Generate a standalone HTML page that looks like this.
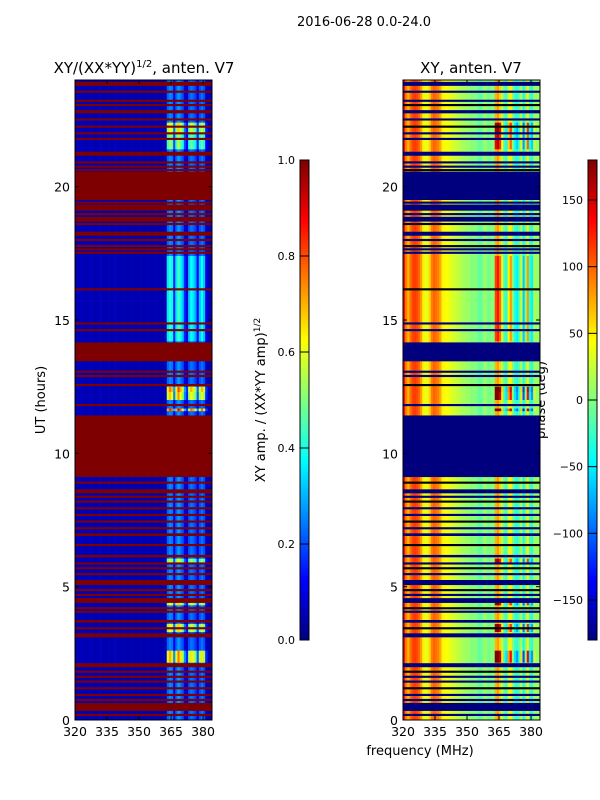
<!DOCTYPE html>
<html><head><meta charset="utf-8">
<style>
body{margin:0;background:#fff;}
svg{display:block;font-family:"DejaVu Sans","Liberation Sans",sans-serif;}
</style></head>
<body>
<svg id="fig" width="600" height="800" viewBox="0 0 600 800">
<rect x="0" y="0" width="600" height="800" fill="#fff"/>
<text x="364" y="26" font-size="13" text-anchor="middle">2016-06-28 0.0-24.0</text>
<text x="144" y="73" font-size="15" text-anchor="middle">XY/(XX*YY)<tspan font-size="10" dy="-6">1/2</tspan><tspan dy="6">, anten. V7</tspan></text>
<text x="471" y="73" font-size="15" text-anchor="middle">XY, anten. V7</text>
<text transform="translate(45,400) rotate(-90)" font-size="13" text-anchor="middle">UT (hours)</text>
<text transform="translate(265,400) rotate(-90)" font-size="13" text-anchor="middle">XY amp. / (XX*YY amp)<tspan font-size="9" dy="-5">1/2</tspan></text>
<text transform="translate(545,400) rotate(-90)" font-size="13" text-anchor="middle">phase (deg)</text>
<text x="420" y="755" font-size="13" text-anchor="middle">frequency (MHz)</text>
<g id="left"></g>
<g id="right"></g>
<g id="cb"></g>
</svg>
<script>
// frequency channels (MHz, 1 MHz wide, start value)
const freqs = [];
for (let f = 320; f < 384; f++) freqs.push(f);
// amplitude per channel (320..383)
const colAmp = [0.05,0.05,0.06,0.06,0.05,0.05,0.06,0.06,0.05,0.05,0.05,0.06,0.06,0.05,0.05,0.05,
  0.05,0.05,0.06,0.05,0.05,0.05,0.05,0.05,0.05,0.05,0.05,0.05,0.05,0.05,0.05,0.05,
  0.05,0.05,0.05,0.05,0.05,0.05,0.05,0.05,0.05,0.05,0.05,0.22,0.26,0.24,0.1,0.22,0.28,0.24,
  0.2,0.1,0.06,0.2,0.24,0.22,0.18,0.08,0.2,0.24,0.2,0.06,0.05,0.05];
// phase per channel (deg)
const colPhase = [130,90,70,95,110,115,110,100,80,50,40,35,60,90,100,95,
  90,75,50,40,45,40,35,30,30,25,20,15,15,10,10,5,
  0,5,0,-10,-10,0,10,0,-5,5,0,70,80,60,20,-10,-20,30,
  50,0,-20,-30,-10,20,-40,0,50,-20,-30,10,10,10];
// flagged intervals (UT hours)
const flagStart = [23.78,23.52,23.18,23.02,22.75,22.48,22.21,21.96,21.75,21.16,20.87,20.71,20.58,19.5,19.36,19.1,18.93,18.69,18.56,18.16,17.96,17.73,17.61,17.48,16.11,14.83,14.58,13.45,13.02,12.86,12.52,
  11.77,9.11,8.86,8.5,8.33,8.15,7.9,7.65,7.4,7.15,6.9,6.52,6.1,5.83,5.65,5.43,5.06,4.83,4.65,4.39,4.15,4.02,3.65,3.4,3.1,1.98,1.77,1.58,1.4,1.15,0.9,0.71,0.34,0.15];
const flagEnd = [23.93,23.6,23.26,23.1,22.87,22.56,22.29,22.04,21.83,21.31,20.95,20.79,20.66,20.56,19.44,19.33,19.01,18.87,18.64,18.31,18.04,17.81,17.69,17.56,16.19,14.91,14.66,14.16,13.1,12.94,12.6,
  11.85,11.42,8.94,8.65,8.41,8.23,7.98,7.73,7.48,7.23,7.0,6.6,6.19,5.91,5.73,5.51,5.25,4.91,4.73,4.57,4.23,4.1,3.75,3.48,3.25,2.13,1.85,1.66,1.48,1.23,0.98,0.79,0.64,0.23];
// brighter activity bands in the active channels (start, end, gain)
const actStart = [11.58,12.0,12.3,2.15,3.3,14.2,21.4,22.0,5.9,4.3];
const actEnd = [11.68,12.3,12.5,2.6,3.6,17.4,22.0,22.4,6.05,4.5];
const actGain = [3.2,2.6,2.9,2.7,2.4,1.6,2.0,2.4,2.2,2.4];
const ampTicks = [0,0.2,0.4,0.6,0.8,1.0];
const phaseTicks = [-150,-100,-50,0,50,100,150];
const xTicks = [320,335,350,365,380];
const yTicks = [0,5,10,15,20];

const NS = "http://www.w3.org/2000/svg";
function jet(v){v=Math.max(0,Math.min(1,v));
  const c=x=>Math.round(255*Math.max(0,Math.min(1,x)));
  return `rgb(${c(1.5-Math.abs(4*v-3))},${c(1.5-Math.abs(4*v-2))},${c(1.5-Math.abs(4*v-1))})`;}
function mk(parent,tag,attrs){const e=document.createElementNS(NS,tag);for(const k in attrs)e.setAttribute(k,attrs[k]);parent.appendChild(e);return e;}
const fMin=320,fMax=384.2,tMin=0,tMax=24;
function panel(g,x0,x1,y0,y1,isPhase){
  const X=f=>x0+(f-fMin)/(fMax-fMin)*(x1-x0);
  const Y=t=>y1-(t-tMin)/(tMax-tMin)*(y1-y0);
  const norm=v=>isPhase?(v+180)/360:v;
  freqs.forEach((f,i)=>{
    const v=isPhase?colPhase[i]:colAmp[i];
    const r=mk(g,'rect',{x:X(f),y:y0,width:X(f+1)-X(f)+0.3,height:y1-y0,fill:jet(norm(v))});
    
    
  });
  actStart.forEach((s,j)=>{
    freqs.forEach((f,i)=>{
      if(f<363||f>381)return;
      let v;
      if(isPhase){v=Math.max(-180,Math.min(180,colPhase[i]*actGain[j]));}
      else v=Math.min(1,colAmp[i]*actGain[j]);
      const r=mk(g,'rect',{x:X(f),y:Y(actEnd[j]),width:X(f+1)-X(f)+0.3,height:Y(s)-Y(actEnd[j]),fill:jet(norm(v))});
      
      
    });
  });
  flagStart.forEach((s,j)=>{
    const e=flagEnd[j];
    let fill=isPhase?'#00007f':'#7f0000';
    if(isPhase&&e-s<0.1&&j%3===0)fill='#000';
    const r=mk(g,'rect',{x:x0,y:Y(e),width:x1-x0,height:Math.max(1,Y(s)-Y(e)),fill:fill});
    
    
  });
  const fr=mk(g,'rect',{x:x0,y:y0,width:x1-x0,height:y1-y0,fill:'none',stroke:'#000','stroke-width':1});
  
  
  xTicks.forEach(t=>{
    mk(g,'line',{x1:X(t),x2:X(t),y1:y1,y2:y1-4,stroke:'#000'});
    mk(g,'line',{x1:X(t),x2:X(t),y1:y0,y2:y0+4,stroke:'#000'});
    const tx=mk(g,'text',{x:X(t),y:y1+16,'font-size':12.5,'text-anchor':'middle'});tx.textContent=t;
    
    
  });
  yTicks.forEach(t=>{
    mk(g,'line',{x1:x0,x2:x0+4,y1:Y(t),y2:Y(t),stroke:'#000'});
    mk(g,'line',{x1:x1,x2:x1-4,y1:Y(t),y2:Y(t),stroke:'#000'});
    const tx=mk(g,'text',{x:x0-5,y:Y(t)+5,'font-size':12.5,'text-anchor':'end'});tx.textContent=t;
    
    
  });
}
panel(document.getElementById('left'),75,212,80,720,false);
panel(document.getElementById('right'),403,540,80,720,true);

function colorbar(g,x,y0,y1,vmin,vmax,ticks,fmt){
  for(let i=0;i<120;i++){
    const r=mk(g,'rect',{x:x,y:y1-(i+1)*(y1-y0)/120,width:9,height:(y1-y0)/120+0.5,fill:jet((i+0.5)/120)});
    
    
  }
  const fr=mk(g,'rect',{x:x,y:y0,width:9,height:y1-y0,fill:'none',stroke:'#000'});
  
  
  ticks.forEach(t=>{
    const yy=y1-(t-vmin)/(vmax-vmin)*(y1-y0);
    mk(g,'line',{x1:x,x2:x+9,y1:yy,y2:yy,stroke:'#000'});
    const tx=mk(g,'text',{x:x-5,y:yy+4,'font-size':11,'text-anchor':'end'});tx.textContent=fmt(t);
    
    
  });
}
const cb=document.getElementById('cb');
colorbar(cb,300,160,640,0,1,ampTicks,t=>t.toFixed(1));
colorbar(cb,588,160,640,-180,180,phaseTicks,t=>t<0?'\u2212'+(-t):''+t);
</script>
</body></html>
